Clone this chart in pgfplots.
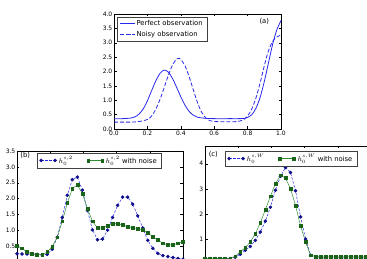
\documentclass[border=0pt]{standalone}
\usepackage{fontspec}
\setmainfont{DejaVu Sans}
\usepackage{pgfplots}
\pgfplotsset{compat=1.18}
\definecolor{mblue}{RGB}{40,40,235}
\definecolor{navy}{RGB}{15,15,140}
\definecolor{mgreen}{RGB}{45,140,45}
\definecolor{dgreen}{RGB}{25,100,25}
\pgfplotsset{
  base/.style={
    scale only axis,
    axis line style={black, line width=0.5pt},
    tick align=inside,
    major tick length=2.5pt,
    every tick/.style={black, line width=0.4pt},
    ticklabel style={font=\fontsize{6}{7}\selectfont, inner sep=1.5pt},
    /pgf/number format/assume math mode=true,
    legend cell align=left,
    legend style={font=\fontsize{6.8}{8}\selectfont, draw=black!75, line width=0.4pt,
      inner xsep=2.5pt, inner ysep=1.2pt, row sep=0pt},
    legend image code/.code={\draw[##1] plot coordinates {(0pt,0pt) (14pt,0pt)};},
  }
}
\pgfplotstableread{
x b g
0 0.27 0.52
1 0.26 0.44
2 0.26 0.32
3 0.26 0.27
4 0.25 0.24
5 0.23 0.24
6 0.25 0.32
7 0.41 0.50
8 0.79 0.79
9 1.41 1.29
10 2.11 1.86
11 2.60 2.32
12 2.68 2.43
13 2.27 2.16
14 1.63 1.69
15 1.02 1.29
16 0.71 1.08
17 0.73 1.08
18 1.01 1.16
19 1.41 1.22
20 1.79 1.22
21 2.05 1.17
22 2.05 1.12
23 1.83 1.09
24 1.46 1.06
25 1.08 1.02
26 0.69 0.92
27 0.44 0.81
28 0.28 0.70
29 0.21 0.60
30 0.18 0.55
31 0.15 0.55
32 0.12 0.60
33 0.10 0.64
}\tabB
\pgfplotstableread{
x b g
0 0.25 0.25
1 0.25 0.25
2 0.25 0.25
3 0.25 0.25
4 0.25 0.25
5 0.25 0.26
6 0.30 0.34
7 0.42 0.51
8 0.58 0.68
9 0.73 0.90
10 0.97 1.23
11 1.30 1.66
12 1.73 2.18
13 2.28 2.71
14 2.95 3.21
15 3.50 3.54
16 3.85 3.43
17 3.65 3.01
18 2.93 2.35
19 1.90 1.54
20 1.02 0.90
21 0.38 0.38
22 0.28 0.33
23 0.28 0.32
24 0.28 0.32
25 0.28 0.32
26 0.28 0.32
27 0.28 0.32
28 0.28 0.32
29 0.28 0.32
30 0.28 0.32
31 0.28 0.32
32 0.28 0.32
33 0.28 0.32
}\tabC
\begin{document}
\begin{tikzpicture}
\path[use as bounding box] (0,0) rectangle (367pt,259pt);
\clip (0,0) rectangle (367pt,259pt);
% (a)
\begin{axis}[base, at={(114pt,130pt)}, anchor=south west,
  width=167pt, height=115pt, xmin=0, xmax=1, ymin=0, ymax=4,
  xtick={0,0.2,0.4,0.6,0.8,1.0}, ytick={0,0.5,1,1.5,2,2.5,3,3.5,4},
  xticklabel style={/pgf/number format/.cd,fixed,fixed zerofill,precision=1},
  yticklabel style={/pgf/number format/.cd,fixed,fixed zerofill,precision=1},
  legend style={at={(0.018,0.974)}, anchor=north west}]
\addplot[mblue, line width=0.8pt, smooth] coordinates {
(0,0.36)(0.05,0.36)(0.1,0.38)(0.125,0.42)(0.15,0.52)(0.175,0.70)(0.2,0.98)
(0.225,1.33)(0.25,1.67)(0.275,1.93)(0.3,2.05)(0.325,1.98)(0.35,1.76)(0.375,1.45)
(0.4,1.12)(0.425,0.83)(0.45,0.61)(0.475,0.48)(0.5,0.41)(0.55,0.37)(0.6,0.36)
(0.7,0.36)(0.75,0.36)(0.78,0.37)(0.8,0.40)(0.825,0.50)(0.85,0.72)(0.875,1.10)
(0.9,1.65)(0.925,2.3)(0.95,2.95)(0.975,3.45)(1.0,3.77)};
\addlegendentry{Perfect observation}
\addplot[mblue, line width=0.8pt, dash pattern=on 4pt off 2pt, smooth] coordinates {
(0,0.24)(0.1,0.24)(0.15,0.26)(0.2,0.33)(0.225,0.45)(0.25,0.68)(0.275,1.02)
(0.3,1.43)(0.325,1.86)(0.35,2.22)(0.375,2.44)(0.39,2.46)(0.4,2.42)(0.425,2.2)
(0.45,1.82)(0.475,1.36)(0.5,0.92)(0.525,0.58)(0.55,0.38)(0.575,0.29)(0.6,0.26)
(0.7,0.25)(0.75,0.27)(0.775,0.32)(0.8,0.45)(0.825,0.70)(0.85,1.08)(0.875,1.6)
(0.9,2.2)(0.925,2.72)(0.95,3.05)(0.975,3.2)(1.0,3.27)};
\addlegendentry{Noisy observation}
\node[font=\fontsize{6.8}{8}\selectfont] at (rel axis cs:0.9,0.94) {(a)};
\end{axis}
% (b)
\begin{axis}[base, at={(17pt,-3.3pt)}, anchor=south west,
  width=166pt, height=111.3pt, xmin=0, xmax=33, ymin=0, ymax=3.5,
  xtick={0,6.6,13.2,19.8,26.4,33}, xticklabels={},
  ytick={0.5,1,1.5,2,2.5,3,3.5},
  yticklabel style={/pgf/number format/.cd,fixed,fixed zerofill,precision=1},
  legend columns=2,
  legend style={at={(0.12,0.982)}, anchor=north west,
    /tikz/every even column/.append style={column sep=12pt}}]
\addplot[mblue, line width=0.5pt, dash pattern=on 2.5pt off 1.5pt, mark=*, mark size=1.5pt,
  mark options={solid, fill=navy, draw=navy}] table[x=x,y=b] {\tabB};
\addlegendentry{$h_0^{s,2}$}
\addplot[mgreen, line width=0.5pt, mark=square*, mark size=1.4pt,
  mark options={solid, fill=dgreen, draw=dgreen}] table[x=x,y=g] {\tabB};
\addlegendentry{$h_0^{s,2}$ with noise}
\node[font=\fontsize{6.8}{8}\selectfont] at (rel axis cs:0.05,0.96) {(b)};
\end{axis}
% (c)
\begin{axis}[base, at={(205pt,-5.9pt)}, anchor=south west,
  width=166pt, height=118.9pt, xmin=0, xmax=33, ymin=0, ymax=4.7,
  xtick={0,6.6,13.2,19.8,26.4,33}, xticklabels={},
  ytick={1,2,3,4},
  legend columns=2,
  legend style={at={(0.12,0.958)}, anchor=north west,
    /tikz/every even column/.append style={column sep=12pt}}]
\addplot[mblue, line width=0.5pt, dash pattern=on 2.5pt off 1.5pt, mark=*, mark size=1.5pt,
  mark options={solid, fill=navy, draw=navy}] table[x=x,y=b] {\tabC};
\addlegendentry{$h_0^{s,W}$}
\addplot[mgreen, line width=0.5pt, mark=square*, mark size=1.4pt,
  mark options={solid, fill=dgreen, draw=dgreen}] table[x=x,y=g] {\tabC};
\addlegendentry{$h_0^{s,W}$ with noise}
\node[font=\fontsize{6.8}{8}\selectfont] at (rel axis cs:0.05,0.93) {(c)};
\end{axis}
\end{tikzpicture}
\end{document}
